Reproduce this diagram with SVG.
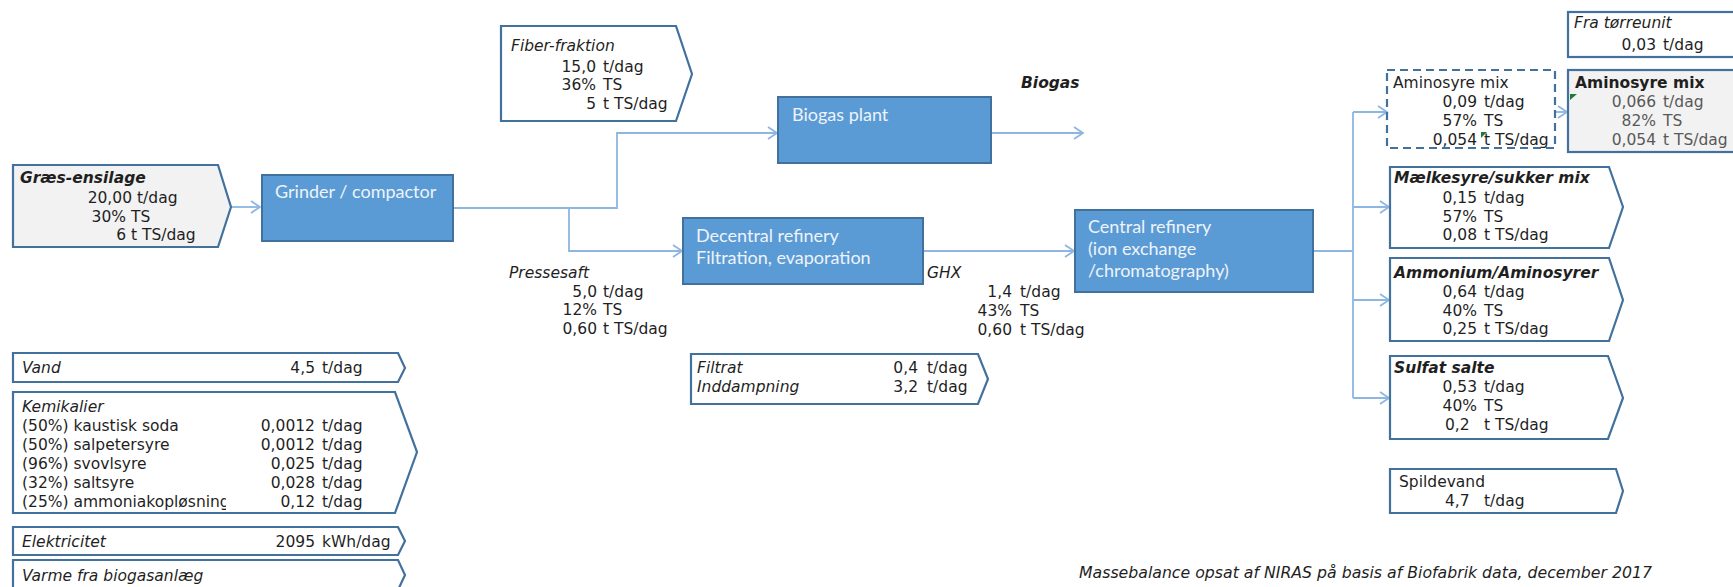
<svg xmlns="http://www.w3.org/2000/svg" width="1733" height="587" viewBox="0 0 1733 587">
<style>
  .t{font-family:"DejaVu Sans",Verdana,sans-serif;font-size:15.5px;fill:#1f1f1f}
  .i{font-style:italic}
  .b{font-weight:bold}
  .r{text-anchor:end}
  .g{fill:#595959}
  .lbl{font-family:Lato,"Liberation Sans",sans-serif;font-size:18px;fill:#eef3fa}
  .proc{fill:#5b9bd5;stroke:#41719c;stroke-width:2}
  .box{fill:#fff;stroke:#41719c;stroke-width:2.2}
  .grey{fill:#f2f2f2}
  .dash{fill:none;stroke:#41719c;stroke-width:2.2;stroke-dasharray:8 5}
  .con{fill:none;stroke:#8db6e2;stroke-width:1.8}
  .err{fill:#1e7b34}
</style>
<defs>
  <marker id="arr" markerWidth="12" markerHeight="14" refX="10" refY="7" orient="auto" markerUnits="userSpaceOnUse">
    <path d="M1,1 L10,7 L1,13" fill="none" stroke="#8db6e2" stroke-width="1.8"/>
  </marker>
  <clipPath id="kemClip"><rect x="13" y="392" width="213" height="121"/></clipPath>
</defs>

<!-- connectors -->
<g id="connectors">
  <path class="con" d="M231,207 H260" marker-end="url(#arr)"/>
  <path class="con" d="M453,208 H617 V133 H777" marker-end="url(#arr)"/>
  <path class="con" d="M569,208 V251 H682" marker-end="url(#arr)"/>
  <path class="con" d="M991,133 H1083" marker-end="url(#arr)"/>
  <path class="con" d="M923,251 H1074" marker-end="url(#arr)"/>
  <path class="con" d="M1313,251 H1353"/>
  <path class="con" d="M1353,112 V398"/>
  <path class="con" d="M1353,112 H1387" marker-end="url(#arr)"/>
  <path class="con" d="M1353,207 H1389" marker-end="url(#arr)"/>
  <path class="con" d="M1353,300 H1389" marker-end="url(#arr)"/>
  <path class="con" d="M1353,398 H1389" marker-end="url(#arr)"/>
  <path class="con" d="M1555,112 H1567" marker-end="url(#arr)"/>
</g>

<!-- process steps -->
<g id="grinder">
  <rect class="proc" x="262" y="175" width="191" height="66"/>
  <text class="lbl" x="275" y="198">Grinder / compactor</text>
</g>
<g id="biogas-plant">
  <rect class="proc" x="778" y="97" width="213" height="66"/>
  <text class="lbl" x="792" y="121">Biogas plant</text>
</g>
<g id="decentral-refinery">
  <rect class="proc" x="683" y="218" width="240" height="66"/>
  <text class="lbl" x="696" y="242">Decentral refinery</text>
  <text class="lbl" x="696" y="264">Filtration, evaporation</text>
</g>
<g id="central-refinery">
  <rect class="proc" x="1075" y="210" width="238" height="82"/>
  <text class="lbl" x="1088" y="233">Central refinery</text>
  <text class="lbl" x="1088" y="255">(ion exchange</text>
  <text class="lbl" x="1088" y="277">/chromatography)</text>
</g>

<!-- inputs -->
<g id="graes-ensilage">
  <path class="box grey" d="M13,165 H218 L231,207 L218,247 H13 Z"/>
  <text class="t i b" x="20" y="183">Græs-ensilage</text>
  <text class="t r" x="132" y="203">20,00</text><text class="t" x="137" y="203">t/dag</text>
  <text class="t r" x="126" y="222">30%</text><text class="t" x="131" y="222">TS</text>
  <text class="t r" x="126" y="240">6</text><text class="t" x="131" y="240">t TS/dag</text>
</g>
<g id="fiber-fraktion">
  <path class="box" d="M501,26 H676 L692,74 L676,121 H501 Z"/>
  <text class="t i" x="511" y="51">Fiber-fraktion</text>
  <text class="t r" x="596" y="72">15,0</text><text class="t" x="603" y="72">t/dag</text>
  <text class="t r" x="596" y="90">36%</text><text class="t" x="603" y="90">TS</text>
  <text class="t r" x="596" y="109">5</text><text class="t" x="603" y="109">t TS/dag</text>
</g>
<g id="vand">
  <path class="box" d="M13,353 H398 L405,368 L398,382 H13 Z"/>
  <text class="t i" x="22" y="373">Vand</text>
  <text class="t r" x="315" y="373">4,5</text><text class="t" x="322" y="373">t/dag</text>
</g>
<g id="kemikalier">
  <path class="box" d="M13,392 H395 L417,452 L395,513 H13 Z"/>
  <text class="t i" x="22" y="412">Kemikalier</text>
  <g clip-path="url(#kemClip)">
    <text class="t" x="22" y="431">(50%) kaustisk soda</text>
    <text class="t" x="22" y="450">(50%) salpetersyre</text>
    <text class="t" x="22" y="469">(96%) svovlsyre</text>
    <text class="t" x="22" y="488">(32%) saltsyre</text>
    <text class="t" x="22" y="507">(25%) ammoniakopløsning</text>
  </g>
  <text class="t r" x="315" y="431">0,0012</text><text class="t" x="322" y="431">t/dag</text>
  <text class="t r" x="315" y="450">0,0012</text><text class="t" x="322" y="450">t/dag</text>
  <text class="t r" x="315" y="469">0,025</text><text class="t" x="322" y="469">t/dag</text>
  <text class="t r" x="315" y="488">0,028</text><text class="t" x="322" y="488">t/dag</text>
  <text class="t r" x="315" y="507">0,12</text><text class="t" x="322" y="507">t/dag</text>
</g>
<g id="elektricitet">
  <path class="box" d="M13,527 H398 L405,541 L398,555 H13 Z"/>
  <text class="t i" x="22" y="547">Elektricitet</text>
  <text class="t r" x="315" y="547">2095</text><text class="t" x="322" y="547">kWh/dag</text>
</g>
<g id="varme">
  <path class="box" d="M13,560 H398 L405,575 L398,590 H13 Z"/>
  <text class="t i" x="22" y="581">Varme fra biogasanlæg</text>
</g>

<!-- intermediate streams -->
<g id="pressesaft">
  <text class="t i" x="509" y="278">Pressesaft</text>
  <text class="t r" x="597" y="297">5,0</text><text class="t" x="603" y="297">t/dag</text>
  <text class="t r" x="597" y="315">12%</text><text class="t" x="603" y="315">TS</text>
  <text class="t r" x="597" y="334">0,60</text><text class="t" x="603" y="334">t TS/dag</text>
</g>
<g id="ghx">
  <text class="t i" x="927" y="278">GHX</text>
  <text class="t r" x="1012" y="297">1,4</text><text class="t" x="1020" y="297">t/dag</text>
  <text class="t r" x="1012" y="316">43%</text><text class="t" x="1020" y="316">TS</text>
  <text class="t r" x="1012" y="335">0,60</text><text class="t" x="1020" y="335">t TS/dag</text>
</g>
<g id="biogas">
  <text class="t i b" x="1021" y="88">Biogas</text>
</g>
<g id="filtrat">
  <path class="box" d="M691,354 H978 L988,379 L978,404 H691 Z"/>
  <text class="t i" x="697" y="373">Filtrat</text>
  <text class="t r" x="918" y="373">0,4</text><text class="t" x="927" y="373">t/dag</text>
  <text class="t i" x="697" y="392">Inddampning</text>
  <text class="t r" x="918" y="392">3,2</text><text class="t" x="927" y="392">t/dag</text>
</g>

<!-- products -->
<g id="aminosyre-mix-raw">
  <rect class="dash" x="1387" y="70" width="168" height="78"/>
  <text class="t" x="1393" y="88">Aminosyre mix</text>
  <text class="t r" x="1477" y="107">0,09</text><text class="t" x="1484" y="107">t/dag</text>
  <text class="t r" x="1477" y="126">57%</text><text class="t" x="1484" y="126">TS</text>
  <text class="t r" x="1477" y="145">0,054</text><text class="t" x="1484" y="145">t TS/dag</text>
  <polygon class="err" points="1481,132 1487,132 1481,138"/>
</g>
<g id="fra-toerreunit">
  <rect class="box" x="1568" y="12" width="170" height="45"/>
  <text class="t i" x="1574" y="28">Fra tørreunit</text>
  <text class="t r" x="1656" y="50">0,03</text><text class="t" x="1663" y="50">t/dag</text>
</g>
<g id="aminosyre-mix">
  <rect class="box grey" x="1568" y="70" width="170" height="82"/>
  <text class="t b" x="1575" y="88">Aminosyre mix</text>
  <text class="t r g" x="1656" y="107">0,066</text><text class="t g" x="1663" y="107">t/dag</text>
  <text class="t r g" x="1656" y="126">82%</text><text class="t g" x="1663" y="126">TS</text>
  <text class="t r g" x="1656" y="145">0,054</text><text class="t g" x="1663" y="145">t TS/dag</text>
  <polygon class="err" points="1570,94 1577,94 1570,100"/>
</g>
<g id="maelkesyre">
  <path class="box" d="M1390,167 H1609 L1623,207 L1609,248 H1390 Z"/>
  <text class="t i b" x="1394" y="183">Mælkesyre/sukker mix</text>
  <text class="t r" x="1477" y="203">0,15</text><text class="t" x="1484" y="203">t/dag</text>
  <text class="t r" x="1477" y="222">57%</text><text class="t" x="1484" y="222">TS</text>
  <text class="t r" x="1477" y="240">0,08</text><text class="t" x="1484" y="240">t TS/dag</text>
</g>
<g id="ammonium">
  <path class="box" d="M1390,258 H1609 L1623,300 L1609,341 H1390 Z"/>
  <text class="t i b" x="1394" y="278">Ammonium/Aminosyrer</text>
  <text class="t r" x="1477" y="297">0,64</text><text class="t" x="1484" y="297">t/dag</text>
  <text class="t r" x="1477" y="316">40%</text><text class="t" x="1484" y="316">TS</text>
  <text class="t r" x="1477" y="334">0,25</text><text class="t" x="1484" y="334">t TS/dag</text>
</g>
<g id="sulfat">
  <path class="box" d="M1390,356 H1608 L1623,398 L1608,439 H1390 Z"/>
  <text class="t i b" x="1394" y="373">Sulfat salte</text>
  <text class="t r" x="1477" y="392">0,53</text><text class="t" x="1484" y="392">t/dag</text>
  <text class="t r" x="1477" y="411">40%</text><text class="t" x="1484" y="411">TS</text>
  <text class="t" x="1445" y="430">0,2</text><text class="t" x="1484" y="430">t TS/dag</text>
</g>
<g id="spildevand">
  <path class="box" d="M1390,469 H1616 L1623,491 L1616,513 H1390 Z"/>
  <text class="t" x="1399" y="487">Spildevand</text>
  <text class="t" x="1445" y="506">4,7</text><text class="t" x="1484" y="506">t/dag</text>
</g>

<text class="t i" x="1079" y="578" font-size="14" textLength="573" lengthAdjust="spacingAndGlyphs">Massebalance opsat af NIRAS på basis af Biofabrik data, december 2017</text>
</svg>
